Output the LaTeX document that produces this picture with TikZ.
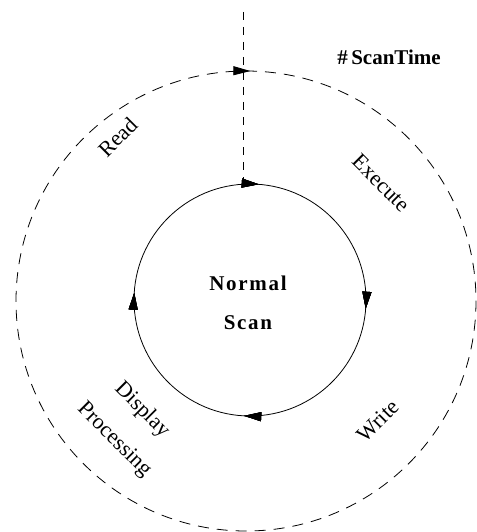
\documentclass[tikz,border=0pt]{standalone}
\usepackage{fontspec}
\setmainfont{Liberation Serif}
\usetikzlibrary{arrows.meta, decorations.markings}
\tikzstyle{phase} = [font=\fontsize{22}{26}\selectfont,
					  inner sep=0pt,
					 ]
\tikzstyle{caption} = [font=\fontsize{21}{24}\selectfont\bfseries\addfontfeatures{LetterSpace=8},
					  inner sep=0pt,
					 ]
\tikzstyle{loopline} = [line width=0.8pt]
\tikzstyle{cycleline} = [line width=0.8pt, dash pattern=on 11pt off 8pt]
\tikzstyle{feedline} = [line width=0.8pt, dash pattern=on 8pt off 7pt]
\tikzset{flowtip/.style={postaction={decorate}, decoration={markings,
	mark=at position #1 with {\arrow[solid]{Triangle[length=17pt,width=9pt]}}}}}

\begin{document}
\begin{tikzpicture}[x=1pt, y=1pt, yscale=-1]
\useasboundingbox (0,0) rectangle (476,532);

\coordinate (hub) at (250,300);
\coordinate (rim) at (246,301);
\coordinate (feed) at (243,12);
\coordinate (scantop) at (250,184);

% outer scan time cycle
\draw [cycleline, flowtip=0.003] (rim) ++(-90:230) arc[start angle=-90, end angle=270, radius=230];
% inner normal scan
\draw [loopline, flowtip=0.012, flowtip=0.262, flowtip=0.508, flowtip=0.76] (hub) ++(-90:116) arc[start angle=-90, end angle=270, radius=116];
\draw [feedline] (feed) -- (feed |- scantop);

\node (scantime) [caption, font=\fontsize{21}{24}\selectfont\bfseries] at (389,57) {\#\,ScanTime};
\node (normal) [caption] at (248,283) {Normal};
\node (scan) [caption] at (248,323) {Scan};

\node (read) [phase, rotate=45] at (118,137) {Read};
\node (execute) [phase, rotate=-45] at (381,183) {Execute};
\node (write) [phase, rotate=45] at (378,421) {Write};
\node (display) [phase, rotate=-45] at (142,410) {Display};
\node (processing) [phase, rotate=-45] at (114,440) {Processing};

\end{tikzpicture}
\end{document}
